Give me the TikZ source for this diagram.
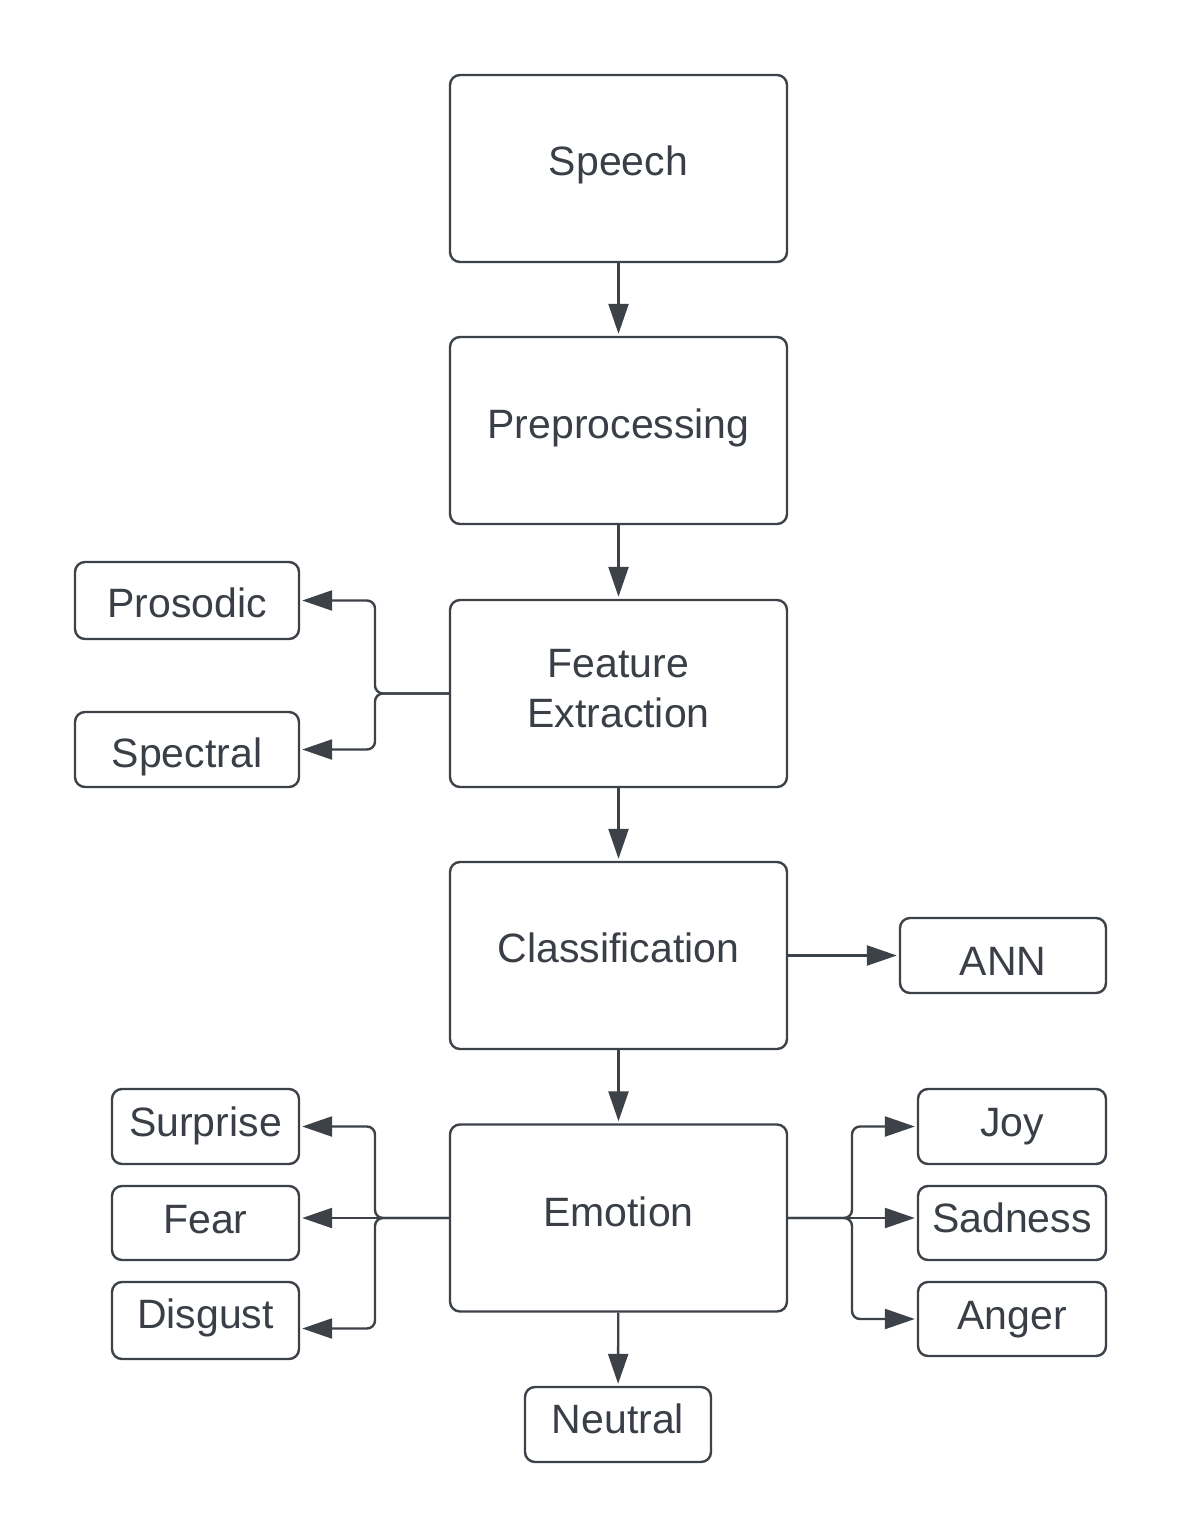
\documentclass[tikz,border=0pt]{standalone}
\usepackage{fontspec}
\setmainfont{Liberation Sans}
\usetikzlibrary{arrows.meta,calc}
\definecolor{ln}{RGB}{61,65,72}
\definecolor{tx}{RGB}{58,63,71}
\begin{document}
\begin{tikzpicture}[x=1pt,y=-1pt,
  box/.style={draw=ln,line width=2.4pt,rounded corners=10pt,fill=white,text=tx,
    font=\fontsize{41}{50}\selectfont,align=center,inner sep=0pt,text depth=0pt},
  bl/.style={text height=#1},
  mainbox/.style={box,minimum width=337pt,minimum height=187pt},
  conn/.style={draw=ln,line width=2.4pt,rounded corners=8pt,
    -{Triangle[length=30pt,width=20pt]},shorten >=2pt}]
\useasboundingbox[fill=white] (0,0) rectangle (1181,1538);
% main column
\node[mainbox,bl=14.4pt] (sp) at (618.5,168.5) {Speech};
\node[mainbox,bl=16pt] (pre) at (618.5,430.5) {Preprocessing};
\node[mainbox,bl=68.4pt] (fe) at (618.5,693.5) {\begin{tabular}[b]{@{}c@{}}Feature\\Extraction\end{tabular}};
\node[mainbox,bl=14pt] (cls) at (618.5,955.5) {Classification};
\node[mainbox,bl=16pt] (emo) at (618.5,1218) {Emotion};
% side boxes
\node[box,bl=34.4pt,minimum width=224pt,minimum height=77pt] (pros) at (187,600.5) {Prosodic};
\node[box,bl=36pt,minimum width=224pt,minimum height=75pt] (spec) at (187,749.5) {Spectral};
\node[box,bl=39pt,minimum width=206pt,minimum height=75pt] (ann) at (1003,955.5) {ANN};
\node[box,bl=20pt,minimum width=187pt,minimum height=75pt] (surp) at (205.5,1126.5) {Surprise};
\node[box,bl=20pt,minimum width=187pt,minimum height=74pt] (fear) at (205.5,1223) {Fear};
\node[box,bl=16pt,minimum width=187pt,minimum height=77pt] (disg) at (205.5,1320.5) {Disgust};
\node[box,bl=20pt,minimum width=188pt,minimum height=75pt] (joy) at (1012,1126.5) {Joy};
\node[box,bl=18pt,minimum width=188pt,minimum height=74pt] (sad) at (1012,1223) {Sadness};
\node[box,bl=20pt,minimum width=188pt,minimum height=74pt] (ang) at (1012,1319) {Anger};
\node[box,bl=18pt,minimum width=186pt,minimum height=75pt] (neu) at (618,1424.5) {Neutral};
% branch points
\coordinate (fej) at (375,693.5);
\coordinate (emj) at (375,1218);
\coordinate (emr) at (852,1218);
\coordinate (disgA) at ($(disg.east)+(0,8)$);
% connectors
\draw[conn] (sp) -- (pre);
\draw[conn] (pre) -- (fe);
\draw[conn] (fe) -- (cls);
\draw[conn] (cls) -- (emo);
\draw[conn] (emo) -- (neu);
\draw[conn] (fe.west) -- (fej) |- (pros.east);
\draw[conn] (fe.west) -- (fej) |- (spec.east);
\draw[conn] (cls.east) -- (ann.west);
\draw[conn] (emo.west) -- (emj) |- (surp.east);
\draw[conn] (emo.west) -- (fear.east |- emo.west);
\draw[conn] (emo.west) -- (emj) |- (disgA);
\draw[conn] (emo.east) -- (emr) |- (joy.west);
\draw[conn] (emo.east) -- (sad.west |- emo.east);
\draw[conn] (emo.east) -- (emr) |- (ang.west);
\end{tikzpicture}
\end{document}
